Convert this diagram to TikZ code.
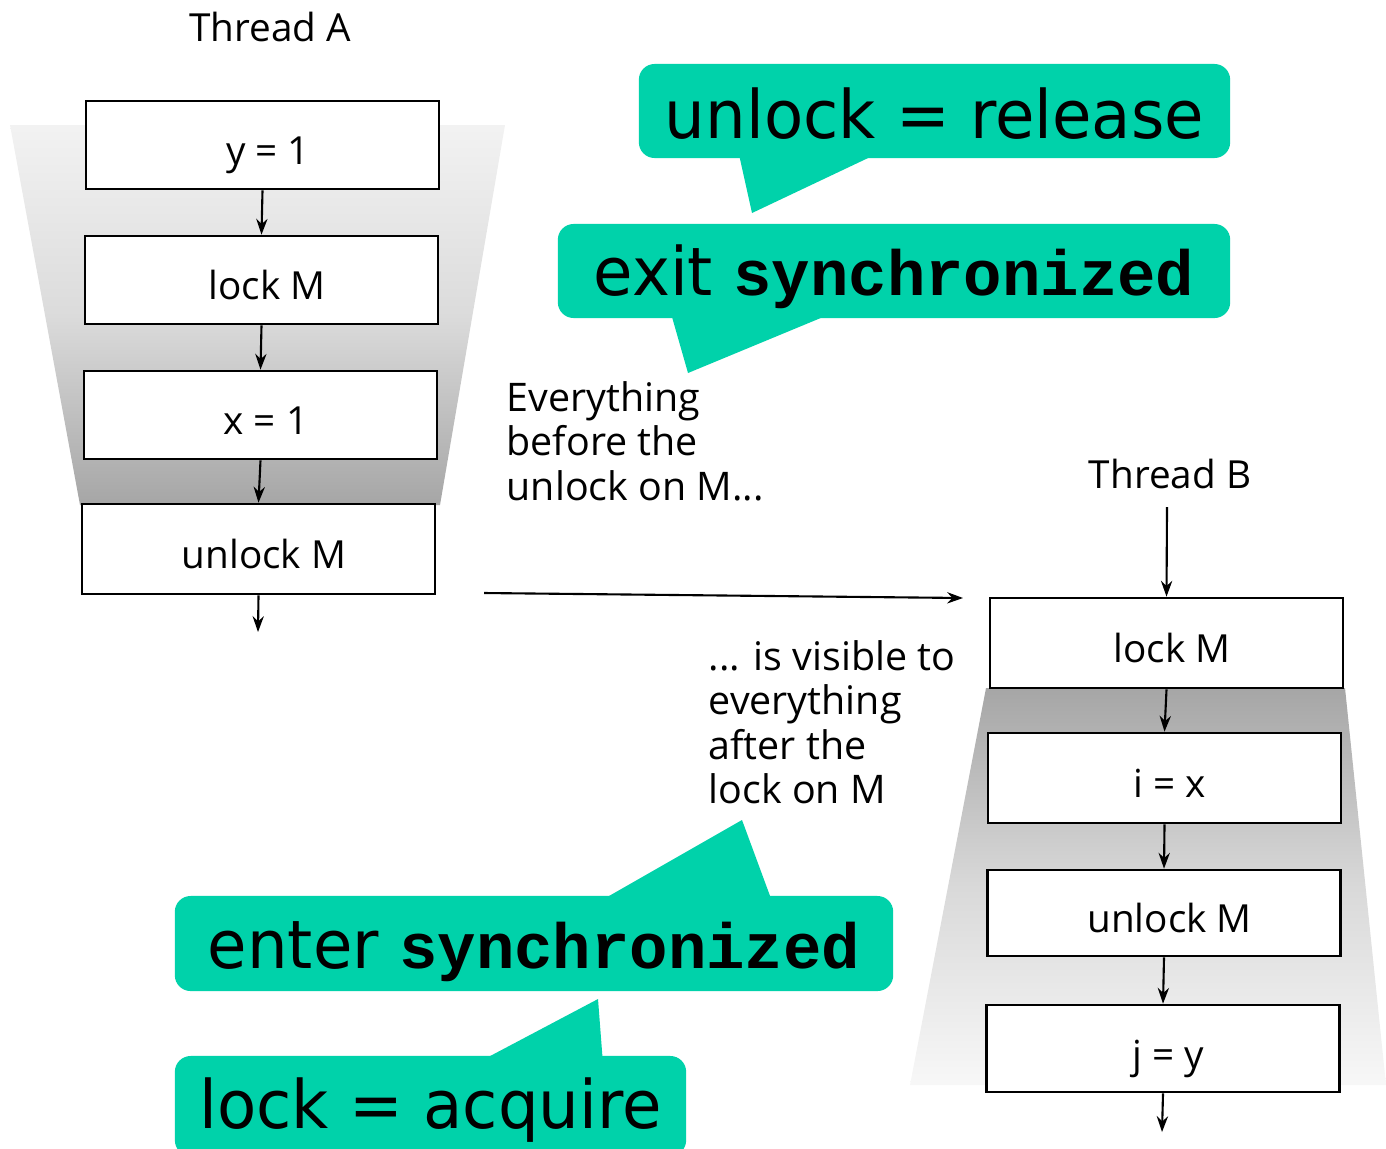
\documentclass[tikz,border=0pt]{standalone}
\usepackage{fontspec}
\setmainfont{Open Sans}
\newfontfamily\callfont[FakeStretch=0.96]{DejaVu Sans}
\newfontfamily\codefont{Liberation Mono}
\usetikzlibrary{arrows.meta}
\definecolor{callout}{RGB}{0,210,170}
\tikzset{
  stepbox/.style={draw=black, line width=0.75pt, fill=white, minimum width=3.53cm, minimum height=0.88cm, inner sep=0pt, text depth=0pt, text height=11.2pt, font=\fontsize{11pt}{13pt}\selectfont, execute at begin node=\hskip0.11cm},
  flow/.style={line width=0.6pt, -{Stealth[length=4.5pt,width=3.2pt]}},
  note/.style={align=left, anchor=north west, inner sep=0pt, font=\fontsize{11.2pt}{12.6pt}\selectfont},
  bubble/.style={fill=callout, rounded corners=4.5pt, inner sep=0pt, text depth=0pt, font=\callfont\fontsize{19pt}{22pt}\selectfont},
  lbl/.style={inner sep=0pt, font=\fontsize{11pt}{13pt}\selectfont}
}
\newcommand{\code}[1]{{\codefont\fontsize{18.2pt}{22pt}\selectfont\bfseries #1}}
\begin{document}
\begin{tikzpicture}[x=0.01cm,y=-0.01cm]
\useasboundingbox (0,0) rectangle (1386,1148);
% funnel shadings
\shade[top color=gray!10, bottom color=gray!70, middle color=gray!28] (10,125) -- (505,125) -- (440,505) -- (80,505) -- cycle;
\shade[top color=gray!70, bottom color=gray!6, middle color=gray!30] (986,688) -- (1345,688) -- (1386,1085) -- (910,1085) -- cycle;

% Thread A
\node[lbl] (ta) at (270,27) {Thread A};
\node[stepbox] (a1) at (262.5,145) {y = 1};
\node[stepbox] (a2) at (261.5,280) {lock M};
\node[stepbox] (a3) at (260.5,415) {x = 1};
\node[stepbox, minimum height=0.9cm] (a4) at (258.5,549) {unlock M};
\coordinate (aout) at (258,632);
\draw[flow] (a1.south) -- (a2.north);
\draw[flow] (a2.south) -- (a3.north);
\draw[flow] (a3.south) -- (a4.north);
\draw[flow] (a4.south) -- (aout);

% Thread B
\node[lbl] (tb) at (1170,474) {Thread B};
\node[stepbox, minimum height=0.9cm] (b1) at (1166.5,643) {lock M};
\node[stepbox, minimum height=0.9cm] (b2) at (1164.5,778) {i = x};
\node[stepbox, minimum height=0.86cm] (b3) at (1164,913) {unlock M};
\node[stepbox, minimum height=0.87cm] (b4) at (1163,1048.5) {j = y};
\coordinate (bin) at (1167,507);
\coordinate (bout) at (1162,1132);
\draw[flow] (bin) -- (b1.north);
\draw[flow] (b1.south) -- (b2.north);
\draw[flow] (b2.south) -- (b3.north);
\draw[flow] (b3.south) -- (b4.north);
\draw[flow] (b4.south) -- (bout);

% horizontal arrow
\coordinate (h1) at (484,593);
\coordinate (h2) at (963,598);
\draw[flow] (h1) -- (h2);

% notes
\node[note] (n1) at (506,381) {Everything\\before the\\unlock on M...};
\node[note] (n2) at (708,640) {... is visible to\\everything\\after the\\lock on M};

% callouts
\fill[callout] (738,150) -- (752,213) -- (885,150) -- cycle;
\node[bubble, text height=15.4pt, minimum width=5.91cm, minimum height=0.94cm] (c1) at (934.5,111) {unlock = release};
\fill[callout] (670,310) -- (688,373) -- (840,310) -- cycle;
\node[bubble, text height=14.2pt, minimum width=6.72cm, minimum height=0.94cm] (c2) at (894,271) {exit \code{synchronized}};
\fill[callout] (595,904) -- (742,820) -- (773,904) -- cycle;
\node[bubble, text height=14pt, minimum width=7.18cm, minimum height=0.95cm] (c3) at (534,943.5) {enter \code{synchronized}};
\fill[callout] (475,1064) -- (598,999) -- (603,1064) -- cycle;
\node[bubble, text height=12.5pt, minimum width=5.11cm, minimum height=1.0cm] (c4) at (430.5,1106) {lock = acquire};
\end{tikzpicture}
\end{document}
